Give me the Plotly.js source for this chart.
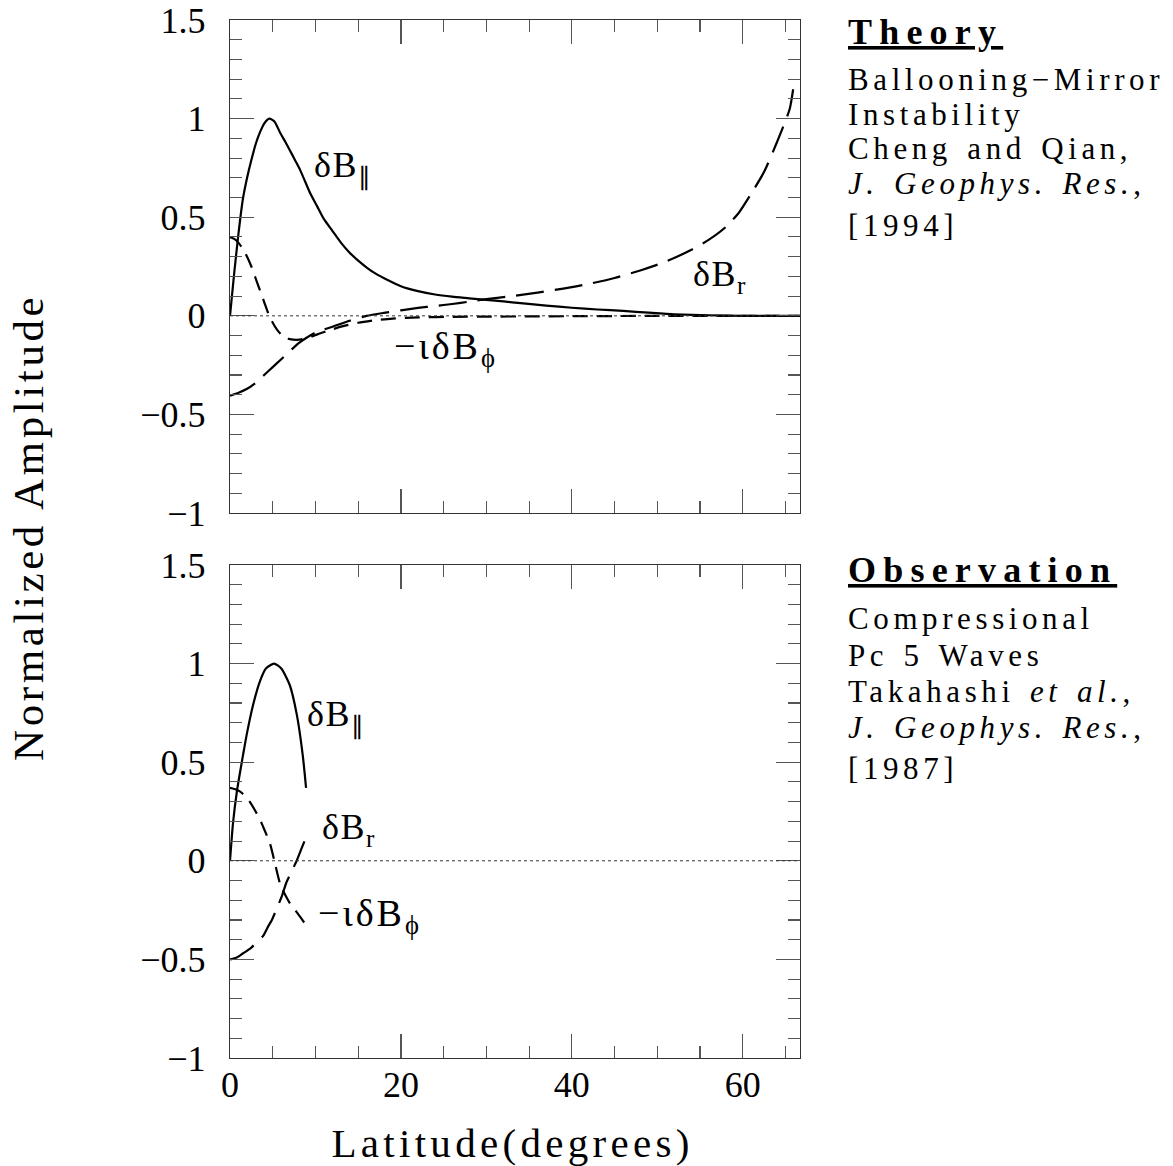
<!DOCTYPE html>
<html>
<head>
<meta charset="utf-8">
<script src="https://cdn.plot.ly/plotly-3.0.1.min.js"></script>
<style>
html,body{margin:0;padding:0;background:#fff;}
#chart{width:1173px;height:1166px;}
</style>
</head>
<body>
<div id="chart"></div>
<script>
// ---- Theory panel (Cheng and Qian 1994) ----
var thParX = [0,0.5,1,1.5,2,2.5,3,3.5,4,4.6,5.2,5.85,6.5,7,7.6,8.2,8.8,9.4,10.2,11,12,13,14,15,16,17,18.5,20,22,24,26,28,30,32,34,37,40,43,46,49,52,56,60,66.7];
var thParY = [0,0.22,0.42,0.59,0.70,0.79,0.87,0.93,0.975,1.0,0.985,0.93,0.88,0.84,0.79,0.74,0.68,0.62,0.555,0.49,0.43,0.37,0.32,0.28,0.245,0.215,0.18,0.15,0.125,0.108,0.097,0.089,0.081,0.073,0.064,0.052,0.041,0.032,0.025,0.016,0.008,0.003,0,0];

var thRX = [0,1,2,3,4,5,6,7,8,9,10,12,14,16,18,20,22,24,26,28,30,33,36,39,42,45,48,51,54,56,58,59.5,61,62.5,64,65.5,66];
var thRY = [-0.405,-0.39,-0.37,-0.34,-0.30,-0.26,-0.22,-0.18,-0.14,-0.11,-0.085,-0.055,-0.025,0,0.015,0.028,0.04,0.05,0.06,0.072,0.085,0.10,0.118,0.138,0.162,0.192,0.23,0.275,0.335,0.385,0.45,0.52,0.62,0.73,0.88,1.05,1.18];

var thPhiX = [0,0.5,1,1.5,2,2.5,3,3.5,4,4.5,5,5.5,6,6.5,7,7.8,8.5,9.5,10.5,11.5,13,15,17,19,22,26,30,35,40,45,50,66.7];
var thPhiY = [0.40,0.39,0.37,0.34,0.30,0.25,0.19,0.13,0.07,0.01,-0.035,-0.07,-0.095,-0.11,-0.118,-0.122,-0.118,-0.105,-0.09,-0.075,-0.055,-0.035,-0.022,-0.014,-0.008,-0.005,-0.004,-0.003,-0.002,-0.001,0,0];

// ---- Observation panel (Takahashi et al. 1987) ----
var obParX = [0,0.35,0.8,1.5,2,2.7,3.5,4.2,5.15,6,7,7.8,8.5,8.9];
var obParY = [0,0.19,0.35,0.53,0.65,0.79,0.91,0.975,1.0,0.975,0.89,0.745,0.54,0.37];

var obRX = [0,0.8,1.5,2.5,3.2,3.9,4.5,4.9,5.5,6.1,6.6,7.2,7.8,8.4,9];
var obRY = [-0.5,-0.49,-0.47,-0.44,-0.41,-0.38,-0.33,-0.30,-0.24,-0.175,-0.11,-0.055,0,0.065,0.13];

var obPhiX = [0,0.8,1.5,2.3,3,3.5,4,4.7,5.3,5.85,6.3,6.8,7.3,7.8,8.3,8.8];
var obPhiY = [0.37,0.36,0.34,0.30,0.25,0.21,0.16,0.085,-0.02,-0.115,-0.16,-0.2,-0.235,-0.26,-0.29,-0.32];

// ---- Axis ticks and labels ----
var xTickVals = [0,20,40,60];
var xTickText = ['0','20','40','60'];
var yTickVals = [-1,-0.5,0,0.5,1,1.5];
var yTickText = ['\u22121','\u22120.5','0','0.5','1','1.5'];
var xRange = [0,66.7];
var yRange = [-1,1.5];

var theoryText = ['<b><u>Theory</u></b>','Ballooning\u2212Mirror','Instability','Cheng and Qian,','<i>J. Geophys. Res.</i>,','[1994]'];
var obsText = ['<b><u>Observation</u></b>','Compressional','Pc 5 Waves','Takahashi <i>et al.</i>,','<i>J. Geophys. Res.</i>,','[1987]'];

var FONT = 'Liberation Serif, Times New Roman, serif';

function line(x,y,xa,ya,dash){
  return {x:x,y:y,xaxis:xa,yaxis:ya,type:'scatter',mode:'lines',
    line:{color:'#000',width:2.2,dash:dash,shape:'spline',smoothing:0.6},
    hoverinfo:'skip',showlegend:false};
}
var LD = '28px,11px';
var MD = '15px,9px';
var traces = [
  line(thParX,thParY,'x','y','solid'),
  line(thRX,thRY,'x','y',LD),
  line(thPhiX,thPhiY,'x','y',MD),
  line(obParX,obParY,'x2','y2','solid'),
  line(obRX,obRY,'x2','y2',LD),
  line(obPhiX,obPhiY,'x2','y2',MD)
];

function xaxis(showLabels, anchor){
  return {range:xRange,anchor:anchor,showgrid:false,zeroline:false,
    showline:true,linecolor:'#333',linewidth:1.3,mirror:'allticks',
    ticks:'inside',ticklen:24,tickwidth:1.2,tickcolor:'#555',
    tickvals:xTickVals,ticktext:xTickText,showticklabels:showLabels,
    tickfont:{family:FONT,size:36,color:'#000'},
    minor:{dtick:5,tick0:0,ticks:'inside',ticklen:12,tickwidth:1.1,tickcolor:'#555',showgrid:false}};
}
function yaxis(domain, anchor){
  return {range:yRange,domain:domain,anchor:anchor,showgrid:false,zeroline:false,
    showline:true,linecolor:'#333',linewidth:1.3,mirror:'allticks',
    ticks:'inside',ticklen:24,tickwidth:1.2,tickcolor:'#555',
    tickvals:yTickVals,ticktext:yTickText,ticklabelstandoff:16,
    tickfont:{family:FONT,size:36,color:'#000'},
    minor:{dtick:0.1,tick0:0,ticks:'inside',ticklen:12,tickwidth:1.1,tickcolor:'#555',showgrid:false}};
}

var ann = [];
var spacing = [];   // letter-spacing (px) applied to each annotation after drawing
var wspacing = [];  // extra word spacing (px)
function label(t,x,y,xr,yr,size,ls){
  ann.push({text:t,x:x,y:y,xref:xr,yref:yr,xanchor:'left',yanchor:'middle',align:'left',showarrow:false,
    font:{family:FONT,size:size,color:'#000'}});
  spacing.push(ls); wspacing.push(0);
}
// curve labels (data coords)
label('\u03b4B<sub>\u2225</sub>',9.6,0.75,'x','y',36,1.5);
label('\u03b4B<sub>r</sub>',54.0,0.2,'x','y',36,1.5);
label('\u2212\u03b9\u03b4B<sub>\u03d5</sub>',18.9,-0.17,'x','y',38,3);
label('\u03b4B<sub>\u2225</sub>',8.8,0.73,'x2','y2',36,1.5);
label('\u03b4B<sub>r</sub>',10.5,0.16,'x2','y2',36,1.5);
label('\u2212\u03b9\u03b4B<sub>\u03d5</sub>',10.1,-0.28,'x2','y2',38,3);

// side text blocks (paper coords)
var pxX = function(px){ return (px-230)/570; };
var pxY = function(py){ return (1058-py)/1038; };
var thY = [32,80,114,148,183,225];
var obY = [570,618,655,691,727,768];
function side(t,py,head){
  ann.push({text:t,x:pxX(846),y:pxY(py),xref:'paper',yref:'paper',
    xanchor:'left',yanchor:'middle',align:'left',showarrow:false,
    font:{family:FONT,size:head?36:31,color:'#000'}});
  spacing.push(head?7.2:4.6); wspacing.push(head?0:3);
}
for (var i=0;i<theoryText.length;i++) side(theoryText[i],thY[i],i===0);
for (var j=0;j<obsText.length;j++) side(obsText[j],obY[j],j===0);

// axis titles
ann.push({text:'Normalized Amplitude',x:pxX(28),y:pxY(528),xref:'paper',yref:'paper',
  xanchor:'center',yanchor:'middle',textangle:-90,showarrow:false,font:{family:FONT,size:43,color:'#000'}});
spacing.push(3.6); wspacing.push(0);
ann.push({text:'Latitude(degrees)',x:pxX(512),y:pxY(1143),xref:'paper',yref:'paper',
  xanchor:'center',yanchor:'middle',showarrow:false,font:{family:FONT,size:41,color:'#000'}});
spacing.push(4.3); wspacing.push(0);

var shapes = [
  {type:'line',xref:'x domain',yref:'y',x0:0,x1:1,y0:0,y1:0,line:{color:'#333',width:1,dash:'dot'}},
  {type:'line',xref:'x2 domain',yref:'y2',x0:0,x1:1,y0:0,y1:0,line:{color:'#333',width:1,dash:'dot'}}
];

var layout = {
  width:1173,height:1166,
  margin:{l:230,r:373,t:20,b:108},
  paper_bgcolor:'#fff',plot_bgcolor:'#fff',
  showlegend:false,
  xaxis:xaxis(false,'y'),
  yaxis:yaxis([0.525,1],'x'),
  xaxis2:xaxis(true,'y2'),
  yaxis2:yaxis([0,0.475],'x2'),
  annotations:ann,
  shapes:shapes,
  font:{family:FONT,color:'#000'}
};
layout.xaxis2.ticklabelstandoff = -6;

Plotly.newPlot('chart',traces,layout,{staticPlot:true,displayModeBar:false}).then(function(gd){
  var groups = gd.querySelectorAll('g.annotation');
  groups.forEach(function(g){
    var k = +g.getAttribute('data-index');
    var t = g.querySelector('text.annotation-text');
    if (t && !isNaN(k)) {
      t.style.letterSpacing = spacing[k] + 'px';
      if (wspacing[k]) t.style.wordSpacing = wspacing[k] + 'px';
    }
  });
});
</script>
</body>
</html>
